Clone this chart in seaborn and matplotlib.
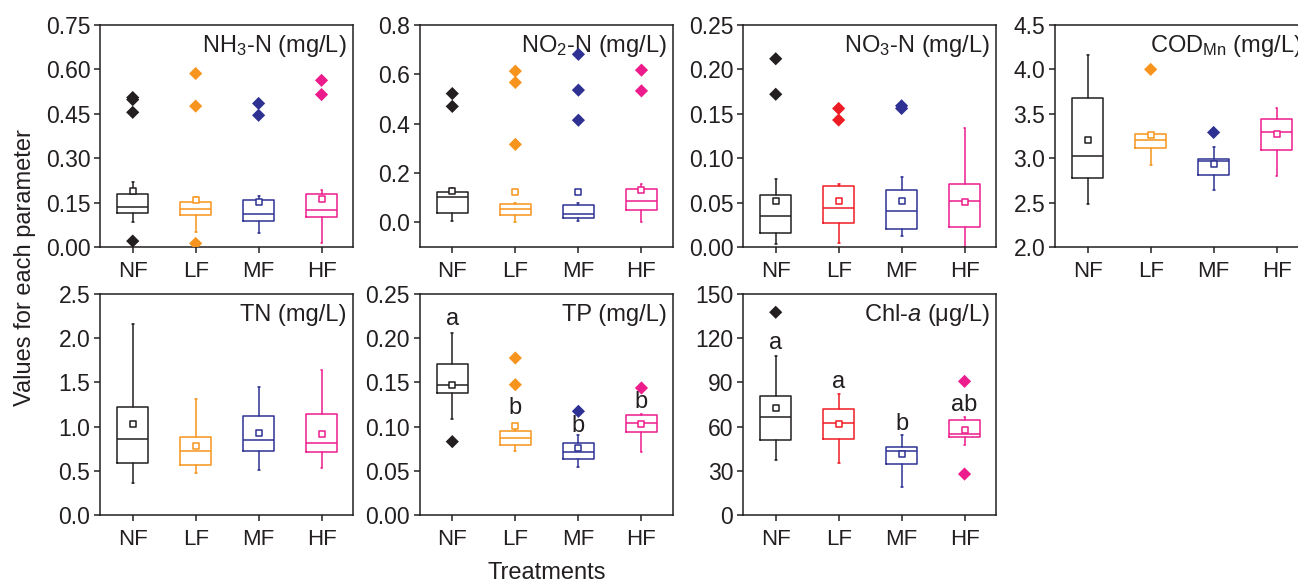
import matplotlib
matplotlib.use("Agg")
import matplotlib.pyplot as plt
import numpy as np
import pandas as pd
import seaborn as sns

treatments = ["NF", "LF", "MF", "HF"]

# ---- NH3-N (mg/L) ----
nh3_lo = [0.085, 0.050, 0.047, 0.013]
nh3_q1 = [0.116, 0.107, 0.087, 0.100]
nh3_med = [0.135, 0.130, 0.113, 0.126]
nh3_q3 = [0.178, 0.152, 0.158, 0.180]
nh3_hi = [0.220, 0.169, 0.171, 0.192]
nh3_mean = [0.190, 0.160, 0.152, 0.163]
nh3_out = [[0.505, 0.498, 0.455, 0.020], [0.586, 0.476, 0.012], [0.485, 0.445], [0.563, 0.515]]

# ---- NO2-N (mg/L) ----
no2_lo = [0.007, 0.000, 0.007, 0.000]
no2_q1 = [0.037, 0.031, 0.018, 0.049]
no2_med = [0.104, 0.056, 0.034, 0.085]
no2_q3 = [0.122, 0.073, 0.069, 0.137]
no2_hi = [0.138, 0.077, 0.080, 0.156]
no2_mean = [0.126, 0.121, 0.121, 0.132]
no2_out = [[0.522, 0.470], [0.613, 0.567, 0.316], [0.681, 0.536, 0.414], [0.617, 0.533]]

# ---- NO3-N (mg/L) ----
no3_lo = [0.003, 0.0045, 0.012, 0.000]
no3_q1 = [0.016, 0.0275, 0.020, 0.022]
no3_med = [0.035, 0.044, 0.041, 0.052]
no3_q3 = [0.058, 0.069, 0.064, 0.071]
no3_hi = [0.077, 0.0705, 0.079, 0.134]
no3_mean = [0.052, 0.052, 0.052, 0.051]
no3_out = [[0.212, 0.172], [0.156, 0.143], [0.159, 0.156], []]

# ---- CODMn (mg/L) ----
cod_lo = [2.48, 2.92, 2.64, 2.80]
cod_q1 = [2.78, 3.12, 2.81, 3.09]
cod_med = [3.02, 3.20, 2.97, 3.30]
cod_q3 = [3.68, 3.27, 2.99, 3.44]
cod_hi = [4.16, 3.27, 3.13, 3.56]
cod_mean = [3.20, 3.26, 2.93, 3.27]
cod_out = [[], [4.00], [3.29], []]

# ---- TN (mg/L) ----
tn_lo = [0.366, 0.475, 0.509, 0.535]
tn_q1 = [0.588, 0.566, 0.724, 0.713]
tn_med = [0.860, 0.728, 0.848, 0.811]
tn_q3 = [1.225, 0.886, 1.120, 1.139]
tn_hi = [2.160, 1.308, 1.452, 1.637]
tn_mean = [1.033, 0.781, 0.924, 0.920]
tn_out = [[], [], [], []]

# ---- TP (mg/L) ----
tp_lo = [0.1086, 0.0728, 0.0539, 0.0713]
tp_q1 = [0.1376, 0.0788, 0.0630, 0.0935]
tp_med = [0.1474, 0.0875, 0.0716, 0.1037]
tp_q3 = [0.1704, 0.0954, 0.0818, 0.1131]
tp_hi = [0.2055, 0.0992, 0.0905, 0.1143]
tp_mean = [0.1470, 0.1010, 0.0758, 0.1026]
tp_out = [[0.083], [0.1776, 0.1474], [0.1173], [0.1437]]
tp_letters = ["a", "b", "b", "b"]
tp_letter_y = [0.222, 0.121, 0.101, 0.128]

# ---- Chl-a (ug/L) ----
chl_lo = [37.3, 35.5, 18.8, 47.3]
chl_q1 = [51.1, 51.6, 34.6, 53.2]
chl_med = [66.3, 62.2, 43.2, 55.0]
chl_q3 = [81.0, 72.2, 46.2, 64.7]
chl_hi = [107.9, 82.1, 54.5, 66.7]
chl_mean = [72.6, 61.8, 41.2, 57.5]
chl_out = [[137.6], [], [], [90.7, 27.8]]
chl_letters = ["a", "a", "b", "ab"]
chl_letter_y = [116.5, 90.5, 61.8, 74.7]

colors_orange = ["#231F20", "#F7941D", "#2E3192", "#EC1C8C"]
colors_red = ["#231F20", "#ED1C24", "#2E3192", "#EC1C8C"]

sns.set_theme(style="ticks")
plt.rcParams["font.family"] = ["Liberation Sans", "DejaVu Sans"]
plt.rcParams["mathtext.fontset"] = "custom"
plt.rcParams["mathtext.rm"] = "Liberation Sans"
plt.rcParams["mathtext.it"] = "Liberation Sans:italic"
plt.rcParams["mathtext.default"] = "regular"

W, H = 1298, 586
fig = plt.figure(figsize=(W / 100, H / 100), dpi=100)


def frac_rect(left, top, right, bottom):
    return [left / W, 1 - bottom / H, (right - left) / W, (bottom - top) / H]


panels = [
    dict(rect=frac_rect(100, 25, 353, 247), title=r"NH$_3$-N (mg/L)",
         stats=(nh3_lo, nh3_q1, nh3_med, nh3_q3, nh3_hi, nh3_mean, nh3_out),
         ylim=(0, 0.75), ticks=np.arange(0, 0.76, 0.15), fmt="{:.2f}", colors=colors_orange),
    dict(rect=frac_rect(419.5, 25, 673, 247), title=r"NO$_2$-N (mg/L)",
         stats=(no2_lo, no2_q1, no2_med, no2_q3, no2_hi, no2_mean, no2_out),
         ylim=(-0.1, 0.8), ticks=np.arange(0, 0.81, 0.2), fmt="{:.1f}", colors=colors_orange),
    dict(rect=frac_rect(743, 25, 996, 247), title=r"NO$_3$-N (mg/L)",
         stats=(no3_lo, no3_q1, no3_med, no3_q3, no3_hi, no3_mean, no3_out),
         ylim=(0, 0.25), ticks=np.arange(0, 0.251, 0.05), fmt="{:.2f}", colors=colors_red),
    dict(rect=frac_rect(1055, 25, 1308, 247), title=r"COD$_{Mn}$ (mg/L)",
         stats=(cod_lo, cod_q1, cod_med, cod_q3, cod_hi, cod_mean, cod_out),
         ylim=(2.0, 4.5), ticks=np.arange(2.0, 4.51, 0.5), fmt="{:.1f}", colors=colors_orange),
    dict(rect=frac_rect(100, 294, 353, 515), title="TN (mg/L)",
         stats=(tn_lo, tn_q1, tn_med, tn_q3, tn_hi, tn_mean, tn_out),
         ylim=(0, 2.5), ticks=np.arange(0, 2.51, 0.5), fmt="{:.1f}", colors=colors_orange),
    dict(rect=frac_rect(419.5, 294, 673, 515), title="TP (mg/L)",
         stats=(tp_lo, tp_q1, tp_med, tp_q3, tp_hi, tp_mean, tp_out),
         ylim=(0, 0.25), ticks=np.arange(0, 0.251, 0.05), fmt="{:.2f}", colors=colors_orange,
         letters=(tp_letters, tp_letter_y)),
    dict(rect=frac_rect(743, 294, 996, 515), title=r"Chl-$\it{a}$ (μg/L)",
         stats=(chl_lo, chl_q1, chl_med, chl_q3, chl_hi, chl_mean, chl_out),
         ylim=(0, 150), ticks=np.arange(0, 151, 30), fmt="{:.0f}", colors=colors_red,
         letters=(chl_letters, chl_letter_y)),
]

FS_Y = 16.5
FS_X = 16
FS_T = 17
LW = 1.1
INK = "#231F20"

for p in panels:
    ax = fig.add_axes(p["rect"])
    lo, q1, med, q3, hi, mean, out = p["stats"]
    cols = p["colors"]
    positions = list(range(len(treatments)))

    bstats = [dict(whislo=lo[i], q1=q1[i], med=med[i], q3=q3[i], whishi=hi[i],
                   fliers=[], label=treatments[i]) for i in positions]
    art = ax.bxp(bstats, positions=positions, widths=0.5, capwidths=0.03,
                 showfliers=False, showmeans=False, patch_artist=False,
                 manage_ticks=False)
    for i, c in enumerate(cols):
        art["boxes"][i].set(color=c, linewidth=LW)
        art["medians"][i].set(color=c, linewidth=LW)
        for w in art["whiskers"][2 * i:2 * i + 2]:
            w.set(color=c, linewidth=LW)
        for cp in art["caps"][2 * i:2 * i + 2]:
            cp.set(color=c, linewidth=LW)

    # outliers as filled diamonds
    out_df = pd.DataFrame(
        [(i, v, treatments[i]) for i in positions for v in out[i]],
        columns=["pos", "value", "treatment"])
    if len(out_df):
        sns.scatterplot(data=out_df, x="pos", y="value", hue="treatment",
                        hue_order=treatments, palette=cols, marker="D", s=45,
                        edgecolor="none", legend=False, ax=ax, zorder=4)

    # means as open squares
    mean_df = pd.DataFrame({"pos": positions, "value": mean, "treatment": treatments})
    for i in positions:
        sub = mean_df.iloc[[i]]
        sns.scatterplot(data=sub, x="pos", y="value", marker="s", s=24,
                        facecolor="white", edgecolor=cols[i], linewidth=1.1,
                        legend=False, ax=ax, zorder=5)

    if "letters" in p:
        labels, ys = p["letters"]
        for i, (lab, yv) in enumerate(zip(labels, ys)):
            ax.text(i, yv, lab, ha="center", va="center", fontsize=FS_T, color=INK)

    ax.set_xlim(-0.52, 3.5)
    ax.set_ylim(*p["ylim"])
    ax.set_xticks(positions)
    ax.set_xticklabels(treatments)
    ax.set_yticks(p["ticks"])
    ax.set_yticklabels([p["fmt"].format(t) for t in p["ticks"]])
    ax.set_xlabel("")
    ax.set_ylabel("")
    ax.tick_params(axis="both", direction="out", length=4, width=LW,
                   colors=INK, top=False, right=False)
    ax.tick_params(axis="x", pad=6, labelsize=FS_X)
    ax.tick_params(axis="y", pad=3, labelsize=FS_Y)
    for s in ax.spines.values():
        s.set_visible(True)
        s.set_linewidth(LW)
        s.set_color(INK)
    ax.text(0.975, 0.905, p["title"], transform=ax.transAxes, ha="right",
            va="center", fontsize=FS_T, color=INK)

fig.text(25 / W, 1 - 268 / H, "Values for each parameter", rotation=90,
         ha="center", va="center", fontsize=FS_T, color=INK)
fig.text(547 / W, 1 - 573 / H, "Treatments", ha="center", va="center",
         fontsize=FS_T, color=INK)

fig.savefig("out.png", dpi=100)
